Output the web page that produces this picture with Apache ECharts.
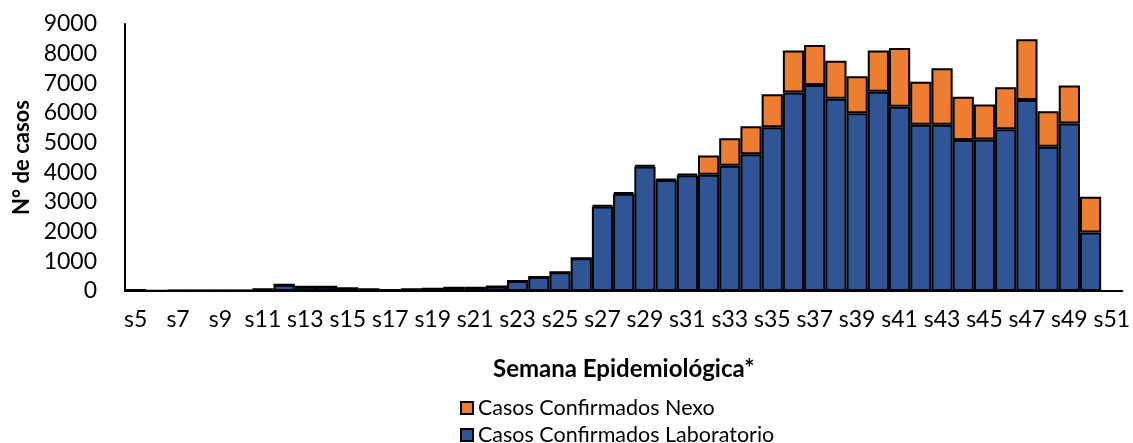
<!DOCTYPE html>
<html>
<head>
<meta charset="utf-8">
<script src="https://cdn.jsdelivr.net/npm/echarts@6/dist/echarts.min.js"></script>
<style>
html,body{margin:0;padding:0;background:#fff;}
#chart{width:1133px;height:443px;}
</style>
</head>
<body>
<div id="chart"></div>
<script>
const weeks = ['s5','s6','s7','s8','s9','s10','s11','s12','s13','s14','s15','s16','s17','s18','s19','s20','s21','s22','s23','s24','s25','s26','s27','s28','s29','s30','s31','s32','s33','s34','s35','s36','s37','s38','s39','s40','s41','s42','s43','s44','s45','s46','s47','s48','s49','s50','s51'];
const laboratorio = [30,5,15,15,15,20,60,210,140,140,90,60,30,60,80,110,110,150,340,470,630,1100,2850,3280,4200,3740,3900,3920,4220,4610,5520,6690,6940,6480,5990,6720,6210,5600,5600,5090,5110,5450,6440,4860,5650,1970,null];
const nexo = [0,0,0,0,0,0,0,0,0,0,0,0,0,0,0,0,0,0,0,0,0,0,40,50,50,40,50,650,930,940,1110,1420,1350,1280,1250,1390,1980,1450,1910,1460,1180,1420,2050,1200,1280,1210,null];
const yMin = 0, yMax = 9000, yStep = 1000;

const FONT = 'Lato, "Liberation Sans", sans-serif';
const legendText = {fontFamily: FONT, fontSize: 21.5, color: '#000'};
const chart = echarts.init(document.getElementById('chart'), null, {renderer:'canvas'});
chart.setOption({
  animation: false,
  backgroundColor: '#ffffff',
  textStyle: {fontFamily: FONT, color: '#000'},
  grid: {left: 125, right: 0, top: 24, bottom: 152, containLabel: false},
  legend: [
    {
      left: 460, top: 397, padding: 0,
      itemWidth: 12, itemHeight: 12, itemGap: 4,
      icon: 'rect',
      data: ['Casos Confirmados Nexo'],
      textStyle: legendText
    },
    {
      left: 460, top: 424, padding: 0,
      itemWidth: 12, itemHeight: 12, itemGap: 4,
      icon: 'rect',
      data: ['Casos Confirmados Laboratorio'],
      textStyle: legendText
    }
  ],
  xAxis: {
    type: 'category',
    data: weeks,
    name: 'Semana Epidemiológica*',
    nameLocation: 'middle',
    nameGap: 66,
    nameTextStyle: {fontFamily: FONT, fontSize: 24, fontWeight: 'bold', color: '#000'},
    axisLine: {lineStyle: {color: '#000', width: 2}},
    axisTick: {show: false},
    axisLabel: {interval: 1, fontSize: 23, color: '#000', margin: 17, fontFamily: FONT}
  },
  yAxis: {
    type: 'value',
    min: yMin, max: yMax, interval: yStep,
    name: 'N° de casos',
    nameLocation: 'middle',
    nameGap: 78,
    nameTextStyle: {fontFamily: FONT, fontSize: 22, fontWeight: 'bold', color: '#000'},
    axisLine: {show: true, lineStyle: {color: '#000', width: 2}},
    axisTick: {show: false},
    splitLine: {show: false},
    axisLabel: {fontSize: 23, color: '#000', margin: 28, fontFamily: FONT, formatter: v => String(v)}
  },
  series: [
    {
      name: 'Casos Confirmados Laboratorio',
      type: 'bar',
      stack: 'total',
      data: laboratorio,
      barCategoryGap: '0%',
      itemStyle: {color: '#2F5597', borderColor: '#000', borderWidth: 2}
    },
    {
      name: 'Casos Confirmados Nexo',
      type: 'bar',
      stack: 'total',
      data: nexo,
      barCategoryGap: '0%',
      itemStyle: {color: '#ED7D31', borderColor: '#000', borderWidth: 2}
    }
  ]
});
</script>
</body>
</html>
